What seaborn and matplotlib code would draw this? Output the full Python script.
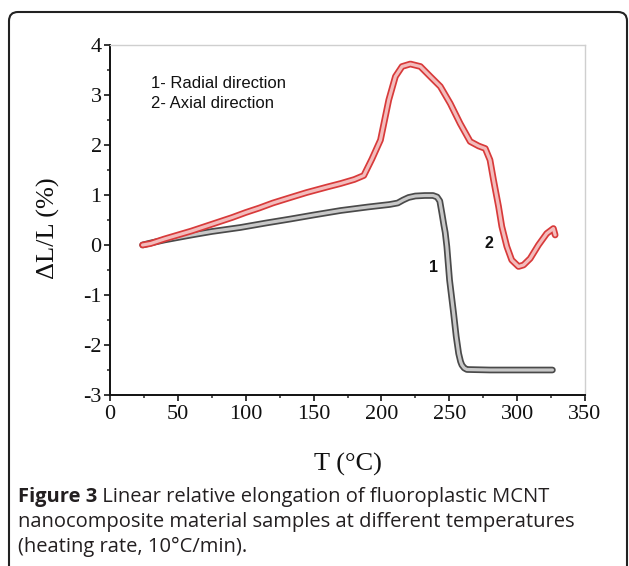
import matplotlib
matplotlib.use("Agg")
import numpy as np
import pandas as pd
import seaborn as sns
import matplotlib.pyplot as plt
import matplotlib.patheffects as pe
from matplotlib.patches import FancyBboxPatch
from matplotlib.transforms import IdentityTransform
from matplotlib.ticker import MultipleLocator

# ---- data ----
radial_T = [24, 30, 40, 50, 60, 75, 96, 115, 133, 150, 170, 190, 206, 212, 216,
            220, 225, 232, 238, 241, 243, 244.6, 246, 247, 248.2, 250.2, 253.2,
            255.1, 256.9, 258.3, 259.3, 261, 263, 280, 300, 326]
radial_dL = [0.0, 0.04, 0.10, 0.15, 0.20, 0.27, 0.35, 0.44, 0.52, 0.60, 0.69, 0.76,
             0.81, 0.84, 0.90, 0.95, 0.98, 0.99, 0.99, 0.96, 0.88, 0.63, 0.40, 0.25,
             -0.03, -0.70, -1.37, -1.83, -2.17, -2.33, -2.40, -2.46, -2.49, -2.50,
             -2.50, -2.50]

axial_T = [24, 30, 40, 50, 60, 70, 80, 90, 100, 110, 120, 133, 145, 160, 170, 180,
           187, 193, 199.3, 205.4, 210.3, 215.2, 221.3, 228.7, 236, 243.4, 250.7,
           258, 265.4, 271.6, 276.5, 280, 282.6, 286.3, 288.7, 292.4, 296, 301,
           304.7, 309.6, 315.7, 321.8, 326.7, 328]
axial_dL = [0.0, 0.03, 0.12, 0.20, 0.28, 0.37, 0.46, 0.55, 0.65, 0.74, 0.84, 0.95,
            1.05, 1.16, 1.23, 1.31, 1.39, 1.72, 2.10, 2.90, 3.37, 3.57, 3.62, 3.57,
            3.37, 3.17, 2.83, 2.43, 2.07, 1.98, 1.93, 1.70, 1.30, 0.77, 0.37, -0.03,
            -0.30, -0.43, -0.40, -0.27, 0.00, 0.23, 0.33, 0.20]

x_ticks = [0, 50, 100, 150, 200, 250, 300, 350]
y_ticks = [-3, -2, -1, 0, 1, 2, 3, 4]
legend_lines = ["1- Radial direction", "2- Axial direction"]
curve_labels = ["1", "2"]
caption_bold = "Figure 3"
caption_rest = [" Linear relative elongation of fluoroplastic MCNT",
                "nanocomposite material samples at different temperatures",
                "(heating rate, 10°C/min)."]

sns.set_theme(style="white")
plt.rcParams['font.family'] = ['Liberation Serif', 'DejaVu Serif']
plt.rcParams['axes.unicode_minus'] = False

W, H = 629, 566
fig = plt.figure(figsize=(W / 100, H / 100), dpi=100)
fig.patch.set_facecolor("white")

ax = fig.add_axes([110 / W, 1 - 395 / H, 475 / W, 350 / H])

radial = pd.DataFrame({"T": radial_T, "dL": radial_dL})
axial = pd.DataFrame({"T": axial_T, "dL": axial_dL})

sns.lineplot(data=radial, x="T", y="dL", ax=ax, sort=False, estimator=None,
             color="#c8c8c8", linewidth=2.3,
             path_effects=[pe.Stroke(linewidth=4.8, foreground="#4a4a4a"), pe.Normal()])
sns.lineplot(data=axial, x="T", y="dL", ax=ax, sort=False, estimator=None,
             color="#f3bcbc", linewidth=2.3,
             path_effects=[pe.Stroke(linewidth=4.8, foreground="#d83a3a"), pe.Normal()])

ax.set_xlim(0, 350)
ax.set_ylim(-3, 4)
ax.set_xticks(x_ticks)
ax.set_yticks(y_ticks)
ax.xaxis.set_minor_locator(MultipleLocator(25))
ax.yaxis.set_minor_locator(MultipleLocator(0.5))
ax.tick_params(axis="both", which="major", direction="out", length=4, width=1.1,
               labelsize=16, colors="black", pad=2,
               bottom=True, left=True, top=False, right=False)
ax.tick_params(axis="x", which="major", pad=3.5)
ax.tick_params(axis="both", which="minor", direction="out", length=2.5, width=1.1,
               bottom=True, left=True, top=False, right=False)
for t in ax.get_xticklabels() + ax.get_yticklabels():
    t.set_color("#111111")

for s in ["left", "bottom"]:
    ax.spines[s].set_color("#111111")
    ax.spines[s].set_linewidth(1.4)
for s in ["top", "right"]:
    ax.spines[s].set_color("#cfcfcf")
    ax.spines[s].set_linewidth(1.0)
ax.grid(False)

ax.set_xlabel("T (°C)", fontsize=19, color="#111111")
ax.set_ylabel("ΔL/L (%)", fontsize=19, color="#111111")
ax.xaxis.set_label_coords(0.5, -0.165)
ax.yaxis.set_label_coords(-0.105, 0.477)

sans = ['Liberation Sans', 'DejaVu Sans']
ax.text(30, 3.24, legend_lines[0], family=sans, fontsize=12, va="center", color="#111111")
ax.text(30, 2.82, legend_lines[1], family=sans, fontsize=12, va="center", color="#111111")
ax.text(238.5, -0.45, curve_labels[0], family=sans, fontsize=11.5, fontweight="bold",
        ha="center", va="center", color="#111111")
ax.text(279, 0.03, curve_labels[1], family=sans, fontsize=11.5, fontweight="bold",
        ha="center", va="center", color="#111111")

# rounded frame (open at the bottom)
frame = FancyBboxPatch((9, -30), 618, 554 + 30, boxstyle="round,pad=0,rounding_size=9",
                       transform=IdentityTransform(), fill=False, ec="#222222", lw=1.5)
fig.patches.append(frame)

# caption
cap_font = ['Open Sans', 'DejaVu Sans']
cap_size = 14.5
cap_col = "#231f20"
line_y = [497, 522, 547]
t0 = fig.text(18 / W, 1 - line_y[0] / H, caption_bold, family=cap_font, fontsize=cap_size,
              fontweight="bold", va="center", color=cap_col)
fig.canvas.draw()
bb = t0.get_window_extent()
fig.text(bb.x1 / W, 1 - line_y[0] / H, caption_rest[0], family=cap_font, fontsize=cap_size,
         va="center", color=cap_col)
fig.text(18 / W, 1 - line_y[1] / H, caption_rest[1], family=cap_font, fontsize=cap_size,
         va="center", color=cap_col)
fig.text(18 / W, 1 - line_y[2] / H, caption_rest[2], family=cap_font, fontsize=cap_size,
         va="center", color=cap_col)

fig.savefig("out.png", dpi=100)
